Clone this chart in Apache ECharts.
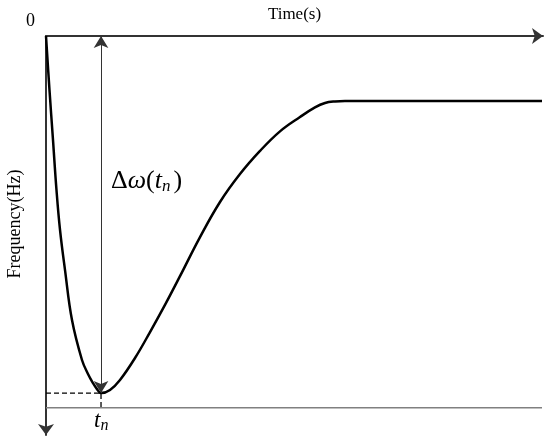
<!DOCTYPE html>
<html>
<head>
<meta charset="utf-8">
<script src="https://cdn.jsdelivr.net/npm/echarts@6/dist/echarts.min.js"></script>
<style>html,body{margin:0;padding:0;background:#fff}#c{width:550px;height:443px}</style>
</head>
<body>
<div id="c"></div>
<script>
// Time (arbitrary units, 0..100) and frequency deviation (downward, arbitrary units 0..100)
var timeVals = [0, 0.70, 1.41, 2.11, 2.82, 3.82, 5.23, 7.24, 8.45, 9.46, 10.26, 11.07, 12.88, 14.89, 17.91, 20.93, 23.94, 26.96, 30.99, 35.01, 39.03, 43.06, 47.08, 51.11, 54.12, 56.14, 58.15, 60.16, 99.8];
var freqDrop = [0, 13.5, 26.1, 38.6, 48.6, 58.6, 71.2, 81.2, 84.7, 87.0, 88.5, 89.5, 88.7, 86.2, 80.7, 74.2, 67.4, 60.2, 50.4, 41.6, 34.6, 28.8, 23.9, 20.3, 17.9, 16.8, 16.4, 16.3, 16.3];
var tn = 11.07;          // time of frequency nadir
var nadir = 89.5;        // Δω(tn)
var baseLevel = 93.2;    // lower reference line
var axisRange = {xMin: 0, xMax: 100, yMin: 0, yMax: 100};
var xName = 'Time(s)';
var yName = 'Frequency(Hz)';
var originLabel = '0';

var curve = timeVals.map(function (t, i) { return [t, freqDrop[i]]; });

var chart = echarts.init(document.getElementById('c'), null, {renderer: 'canvas'});
var serif = '"Liberation Serif", "Times New Roman", serif';
chart.setOption({
  animation: false,
  grid: {left: 46, right: 7, top: 36, bottom: 8, containLabel: false, outerBoundsMode: 'none'},
  xAxis: {
    type: 'value', position: 'top', min: axisRange.xMin, max: axisRange.xMax,
    name: xName, nameLocation: 'middle', nameGap: 13,
    nameTextStyle: {fontFamily: serif, fontSize: 17, color: '#000'},
    axisLine: {show: true, lineStyle: {color: '#333', width: 2}, symbol: ['none', 'arrow'], symbolSize: [12, 11]},
    axisTick: {show: false}, axisLabel: {show: false}, splitLine: {show: false}
  },
  yAxis: {
    type: 'value', inverse: true, min: axisRange.yMin, max: axisRange.yMax,
    axisLine: {show: true, onZero: false, lineStyle: {color: '#333', width: 2}, symbol: ['arrow', 'none'], symbolSize: [12, 11]},
    axisTick: {show: false}, axisLabel: {show: false}, splitLine: {show: false}
  },
  series: [
    {
      type: 'line', data: [[axisRange.xMin, baseLevel], [timeVals[timeVals.length - 1], baseLevel]],
      symbol: 'none', lineStyle: {color: '#808080', width: 1.5}, silent: true, z: 1
    },
    {
      type: 'line', data: [[axisRange.xMin, nadir], [tn, nadir], [tn, baseLevel]],
      symbol: 'none', lineStyle: {color: '#000', width: 1.3, type: [5, 3]}, silent: true, z: 2
    },
    {
      type: 'line', data: curve, smooth: 0.4, symbol: 'none',
      lineStyle: {color: '#000', width: 2.5}, z: 3,
      markLine: {
        silent: true, symbol: ['arrow', 'arrow'], symbolSize: [11, 12],
        lineStyle: {color: '#333', width: 1, type: 'solid'},
        label: {show: false},
        data: [[{coord: [tn, axisRange.yMin]}, {coord: [tn, nadir]}]]
      }
    }
  ],
  graphic: [
    {type: 'text', left: 26, top: 12, style: {text: originLabel, font: '18px ' + serif, fill: '#000'}},
    {type: 'text', x: 15, y: 224, rotation: Math.PI / 2,
     style: {text: yName, font: '18px ' + serif, fill: '#000', align: 'center', verticalAlign: 'middle'}},
    {type: 'text', left: 111, top: 168,
     style: {
       text: '{a|Δ}{b|ω}{a|(}{b|t}{s|n}{a|)}',
       rich: {
         a: {fontFamily: serif, fontSize: 26, fill: '#000'},
         b: {fontFamily: serif, fontSize: 26, fontStyle: 'italic', fill: '#000'},
         s: {fontFamily: serif, fontSize: 17, fontStyle: 'italic', fill: '#000', verticalAlign: 'bottom', padding: [12, 3, 0, 0]}
       }
     }},
    {type: 'text', left: 94, top: 409,
     style: {
       text: '{b|t}{s|n}',
       rich: {
         b: {fontFamily: serif, fontSize: 23, fontStyle: 'italic', fill: '#000'},
         s: {fontFamily: serif, fontSize: 16, fontStyle: 'italic', fill: '#000', verticalAlign: 'bottom', padding: [11, 0, 0, 0]}
       }
     }}
  ]
});
</script>
</body>
</html>
